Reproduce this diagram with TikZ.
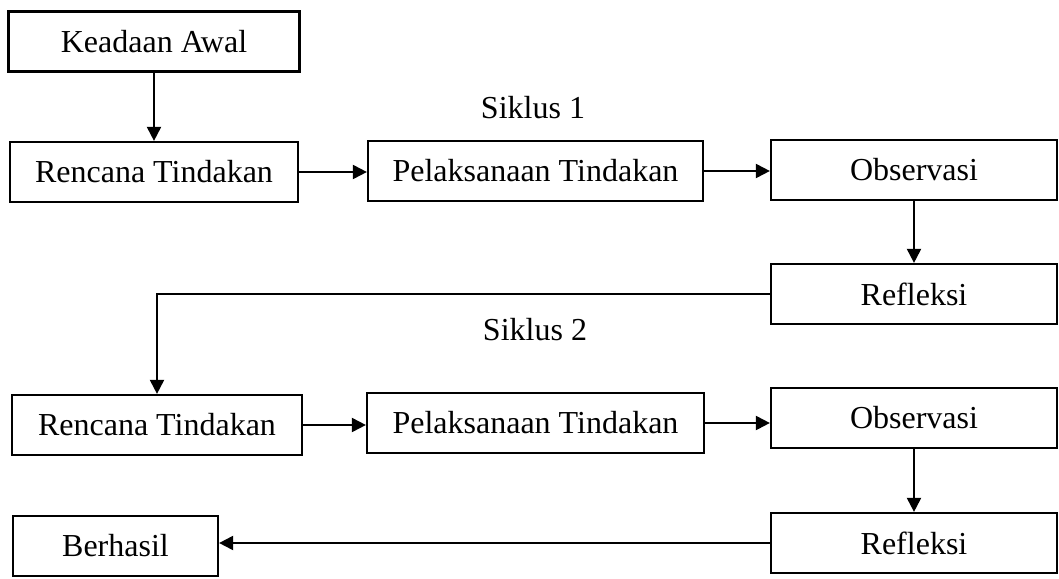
\documentclass[tikz,border=0pt]{standalone}
\usepackage{fontspec}
\setmainfont{Liberation Serif}
\usetikzlibrary{arrows.meta}

\begin{document}
\begin{tikzpicture}[x=1pt, y=-1pt, >={Triangle[length=14pt, width=14pt]}, line width=2pt]
				\tikzstyle{every node}=[align=center, inner sep=0pt, font=\fontsize{32}{38}\selectfont]
				\tikzstyle{box}=[draw, line width=2.2pt, minimum height=60pt]
				\useasboundingbox (0,0) rectangle (1059,578);
				\node[box, minimum width=291pt] (Awal) at (154, 41.5) {Keadaan Awal};
				\node[box, minimum width=288pt] (Ren1) at (154, 172) {Rencana Tindakan};
				\node[box, minimum width=335pt] (Pel1) at (535.5, 171) {Pelaksanaan Tindakan};
				\node[box, minimum width=286pt] (Obs1) at (914, 170) {Observasi};
				\node[box, minimum width=286pt] (Ref1) at (914, 294) {Refleksi};
				\node (S1) at (533, 108) {Siklus 1};
				\node (S2) at (535, 330) {Siklus 2};
				\node[box, minimum width=290pt] (Ren2) at (157, 425) {Rencana Tindakan};
				\node[box, minimum width=337pt] (Pel2) at (535.5, 423) {Pelaksanaan Tindakan};
				\node[box, minimum width=286pt] (Obs2) at (914, 418) {Observasi};
				\node[box, minimum width=286pt] (Ref2) at (914, 543) {Refleksi};
				\node[box, minimum width=205pt] (Ber) at (115.5, 546) {Berhasil};

				\draw[->]  (Awal) to (Ren1);
				\draw[->]  (Ren1.east) to (Ren1.east -| Pel1.west);
				\draw[->]  (Pel1.east) to (Pel1.east -| Obs1.west);
				\draw[->]  (Obs1) to (Ref1);
				\draw[->]  (Ref1.west) -| (Ren2.north);
				\draw[->]  (Ren2.east) to (Ren2.east -| Pel2.west);
				\draw[->]  (Pel2.east) to (Pel2.east -| Obs2.west);
				\draw[->]  (Obs2) to (Ref2);
				\draw[->]  (Ref2.west) to (Ref2.west -| Ber.east);

			\end{tikzpicture}
\end{document}
